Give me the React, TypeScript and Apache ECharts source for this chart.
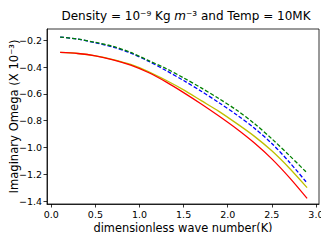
import React, { useEffect, useRef } from "react";
import * as echarts from "echarts";

const kValues = [0.1, 0.3, 0.5, 0.7, 0.9, 1.1, 1.3, 1.5, 1.7, 1.9, 2.1, 2.3, 2.5, 2.7, 2.9];
const redSeries = [-0.29, -0.298, -0.315, -0.345, -0.385, -0.44, -0.51, -0.59, -0.675, -0.765, -0.86, -0.965, -1.085, -1.225, -1.38];
const yellowSeries = [-0.29, -0.298, -0.315, -0.343, -0.38, -0.433, -0.498, -0.57, -0.65, -0.73, -0.82, -0.915, -1.025, -1.155, -1.3];
const blueSeries = [-0.175, -0.19, -0.218, -0.25, -0.295, -0.355, -0.425, -0.5, -0.58, -0.665, -0.755, -0.855, -0.97, -1.11, -1.265];
const greenSeries = [-0.175, -0.19, -0.215, -0.245, -0.29, -0.35, -0.41, -0.48, -0.555, -0.635, -0.72, -0.82, -0.935, -1.06, -1.19];
const xTicks = [0, 0.5, 1.0, 1.5, 2.0, 2.5, 3.0];
const yTicks = [-1.4, -1.2, -1.0, -0.8, -0.6, -0.4, -0.2];

const FONT = "DejaVu Sans";

const pairs = (ys: number[]) => kValues.map((k, i) => [k, ys[i]]);
const fmt = (v: number) => {
  const s = Math.abs(v).toFixed(1);
  return v < 0 ? "\u2212" + s : s;
};

export default function App() {
  const ref = useRef<HTMLDivElement>(null);
  useEffect(() => {
    if (!ref.current) return;
    const chart = echarts.init(ref.current, undefined, { renderer: "svg" });
    const axisCommon = {
      axisLine: { show: true, onZero: false, lineStyle: { color: "#000", width: 0.8 } },
      axisTick: { show: true, inside: false, length: 3.5, lineStyle: { color: "#000", width: 0.8 } },
      splitLine: { show: false },
    };
    chart.setOption({
      animation: false,
      backgroundColor: "#fff",
      title: {
        text: "Density = 10\u207b\u2079 Kg {i|m}\u207b\u00b3 and Temp = 10MK",
        left: 181,
        top: 5,
        textAlign: "center",
        textStyle: {
          fontFamily: FONT,
          fontSize: 12,
          fontWeight: "normal",
          color: "#000",
          rich: {
            i: { fontFamily: FONT, fontSize: 12, fontStyle: "italic", color: "#000" },
          },
        },
      },
      grid: { left: 47, top: 29, right: 10, bottom: 36, show: true, borderColor: "#000", borderWidth: 0.8 },
      xAxis: {
        type: "value",
        min: -0.049,
        max: 3.035,
        name: "dimensionless wave number(K)",
        nameLocation: "middle",
        nameGap: 18,
        nameMoveOverlap: false,
        nameTextStyle: { fontFamily: FONT, fontSize: 11.4, color: "#000" },
        ...axisCommon,
        axisTick: { ...axisCommon.axisTick, customValues: xTicks },
        axisLabel: {
          customValues: xTicks,
          formatter: (v: number) => v.toFixed(1),
          fontFamily: FONT,
          fontSize: 9.5,
          color: "#000",
          margin: 5,
        },
      },
      yAxis: {
        type: "value",
        min: -1.422,
        max: -0.115,
        name: "Imaginary Omega (X 10\u207b\u00b3)",
        nameLocation: "middle",
        nameGap: 27,
        nameMoveOverlap: false,
        nameRotate: 90,
        nameTextStyle: { fontFamily: FONT, fontSize: 11.6, color: "#000" },
        ...axisCommon,
        axisTick: { ...axisCommon.axisTick, customValues: yTicks },
        axisLabel: {
          customValues: yTicks,
          formatter: (v: number) => fmt(v),
          fontFamily: FONT,
          fontSize: 9.5,
          color: "#000",
          margin: 5,
        },
      },
      series: [
        {
          type: "line",
          data: pairs(yellowSeries),
          smooth: 0.3,
          showSymbol: false,
          lineStyle: { color: "#bfbf00", width: 1.3 },
        },
        {
          type: "line",
          data: pairs(redSeries),
          smooth: 0.3,
          showSymbol: false,
          lineStyle: { color: "#ff0000", width: 1.3 },
        },
        {
          type: "line",
          data: pairs(blueSeries),
          smooth: 0.3,
          showSymbol: false,
          lineStyle: { color: "#0000ff", width: 1.3, type: [4, 2] },
        },
        {
          type: "line",
          data: pairs(greenSeries),
          smooth: 0.3,
          showSymbol: false,
          lineStyle: { color: "#008000", width: 1.3, type: [4, 2] },
        },
      ],
    });
    return () => chart.dispose();
  }, []);
  return <div ref={ref} style={{ width: 329, height: 240, margin: -8 }} />;
}
